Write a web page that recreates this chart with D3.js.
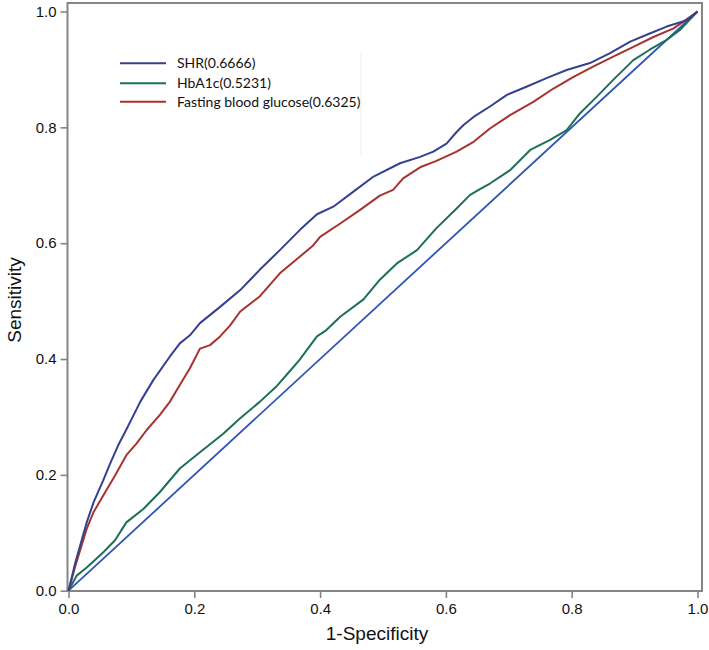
<!DOCTYPE html>
<html>
<head>
<meta charset="utf-8">
<script src="https://cdn.jsdelivr.net/npm/d3@7"></script>
<style>
  html, body { margin: 0; padding: 0; background: #fff; }
  svg { display: block; }
</style>
</head>
<body>
<svg id="chart" width="709" height="650"></svg>
<script>
// ---- data ----
const seriesNames = ["SHR(0.6666)", "HbA1c(0.5231)", "Fasting blood glucose(0.6325)"];
const seriesColors = ["#34418f", "#1d6f5a", "#a8322f"];

const shrFpr = [0, 0.011, 0.029, 0.040, 0.055, 0.066, 0.079, 0.090, 0.114, 0.135, 0.161, 0.177, 0.193, 0.209, 0.241, 0.273, 0.304, 0.336, 0.368, 0.395, 0.421, 0.453, 0.485, 0.527, 0.559, 0.580, 0.601, 0.617, 0.628, 0.644, 0.670, 0.697, 0.728, 0.760, 0.792, 0.829, 0.861, 0.893, 0.924, 0.951, 0.983, 1];
const shrTpr = [0, 0.049, 0.118, 0.153, 0.190, 0.219, 0.251, 0.274, 0.326, 0.364, 0.404, 0.427, 0.441, 0.462, 0.490, 0.519, 0.554, 0.588, 0.623, 0.650, 0.663, 0.689, 0.715, 0.738, 0.749, 0.758, 0.772, 0.792, 0.804, 0.818, 0.836, 0.856, 0.870, 0.885, 0.899, 0.911, 0.928, 0.948, 0.962, 0.974, 0.985, 1];

const hbaFpr = [0, 0.013, 0.029, 0.055, 0.074, 0.092, 0.119, 0.145, 0.177, 0.209, 0.246, 0.272, 0.304, 0.330, 0.351, 0.367, 0.395, 0.410, 0.432, 0.469, 0.495, 0.522, 0.554, 0.585, 0.617, 0.638, 0.652, 0.670, 0.702, 0.734, 0.765, 0.792, 0.813, 0.840, 0.866, 0.898, 0.924, 0.951, 0.972, 1];
const hbaTpr = [0, 0.026, 0.040, 0.066, 0.087, 0.118, 0.141, 0.170, 0.211, 0.239, 0.271, 0.297, 0.326, 0.352, 0.378, 0.398, 0.439, 0.450, 0.473, 0.503, 0.537, 0.565, 0.588, 0.626, 0.660, 0.683, 0.692, 0.703, 0.726, 0.761, 0.778, 0.795, 0.824, 0.853, 0.882, 0.916, 0.934, 0.951, 0.968, 1];

const fbgFpr = [0, 0.011, 0.029, 0.040, 0.055, 0.074, 0.092, 0.108, 0.124, 0.145, 0.161, 0.177, 0.193, 0.201, 0.209, 0.225, 0.241, 0.257, 0.273, 0.293, 0.304, 0.320, 0.336, 0.368, 0.388, 0.400, 0.432, 0.463, 0.495, 0.516, 0.532, 0.559, 0.585, 0.617, 0.644, 0.670, 0.702, 0.739, 0.771, 0.803, 0.834, 0.866, 0.898, 0.930, 0.962, 0.977, 1];
const fbgTpr = [0, 0.043, 0.107, 0.136, 0.164, 0.199, 0.234, 0.254, 0.277, 0.303, 0.326, 0.355, 0.384, 0.401, 0.418, 0.424, 0.439, 0.458, 0.482, 0.499, 0.508, 0.528, 0.548, 0.577, 0.595, 0.611, 0.634, 0.657, 0.682, 0.692, 0.712, 0.731, 0.742, 0.758, 0.775, 0.798, 0.821, 0.844, 0.867, 0.887, 0.905, 0.922, 0.939, 0.956, 0.971, 0.982, 1];

const refFpr = [0, 1];
const refTpr = [0, 1];

const tickValues = [0, 0.2, 0.4, 0.6, 0.8, 1.0];
const xTitle = "1-Specificity";
const yTitle = "Sensitivity";

// ---- drawing ----
const svg = d3.select("#chart");
const x = d3.scaleLinear().domain([0, 1]).range([68.5, 697.5]);
const y = d3.scaleLinear().domain([0, 1]).range([590.7, 11.5]);
const frame = { left: 67.5, right: 702, top: 3, bottom: 591 };

const axisColor = "#858585";
const tickFont = "'Liberation Sans', Arial, sans-serif";

// plot frame
svg.append("rect")
  .attr("x", frame.left).attr("y", frame.top)
  .attr("width", frame.right - frame.left).attr("height", frame.bottom - frame.top)
  .attr("fill", "none").attr("stroke", axisColor).attr("stroke-width", 2);

// x axis
const xAxis = d3.axisBottom(x).tickValues(tickValues).tickFormat(d3.format(".1f")).tickSize(7).tickPadding(5);
const gx = svg.append("g").attr("transform", `translate(0,${frame.bottom})`).call(xAxis);
gx.select(".domain").remove();
gx.selectAll(".tick line").attr("stroke", axisColor).attr("stroke-width", 1.6);
gx.selectAll(".tick text").attr("font-family", tickFont).attr("font-size", 15).attr("fill", "#111");

// y axis
const yAxis = d3.axisLeft(y).tickValues(tickValues).tickFormat(d3.format(".1f")).tickSize(7).tickPadding(4);
const gy = svg.append("g").attr("transform", `translate(${frame.left},0)`).call(yAxis);
gy.select(".domain").remove();
gy.selectAll(".tick line").attr("stroke", axisColor).attr("stroke-width", 1.6);
gy.selectAll(".tick text").attr("font-family", tickFont).attr("font-size", 15).attr("fill", "#111");

// axis titles
svg.append("text").attr("x", 377).attr("y", 640)
  .attr("text-anchor", "middle").attr("font-family", tickFont).attr("font-size", 19)
  .attr("fill", "#111").text(xTitle);
svg.append("text").attr("transform", "translate(21,300) rotate(-90)")
  .attr("text-anchor", "middle").attr("font-family", tickFont).attr("font-size", 19)
  .attr("fill", "#111").text(yTitle);

// reference diagonal
const line = d3.line().x(d => x(d[0])).y(d => y(d[1])).curve(d3.curveLinear);
svg.append("path").datum(d3.zip(refFpr, refTpr))
  .attr("d", line).attr("fill", "none").attr("stroke", "#2f55b4").attr("stroke-width", 1.8);

// curves
const curves = [
  { fpr: hbaFpr, tpr: hbaTpr, color: seriesColors[1] },
  { fpr: fbgFpr, tpr: fbgTpr, color: seriesColors[2] },
  { fpr: shrFpr, tpr: shrTpr, color: seriesColors[0] }
];
curves.forEach(c => {
  svg.append("path").datum(d3.zip(c.fpr, c.tpr))
    .attr("d", line).attr("fill", "none")
    .attr("stroke", c.color).attr("stroke-width", 2).attr("stroke-linejoin", "round");
});

// faint legend border remnant
svg.append("line").attr("x1", 361).attr("x2", 361).attr("y1", 52).attr("y2", 156)
  .attr("stroke", "#eceef4").attr("stroke-width", 1);

// legend
const legend = svg.append("g");
const legendY = [63.3, 83.3, 101.7];
seriesNames.forEach((name, i) => {
  legend.append("line").attr("x1", 120).attr("x2", 166)
    .attr("y1", legendY[i]).attr("y2", legendY[i])
    .attr("stroke", seriesColors[i]).attr("stroke-width", 2);
  legend.append("text").attr("x", 177).attr("y", legendY[i] + 5)
    .attr("font-family", "Lato, 'Open Sans', sans-serif").attr("font-size", 14)
    .attr("fill", "#111").text(name);
});
</script>
</body>
</html>
